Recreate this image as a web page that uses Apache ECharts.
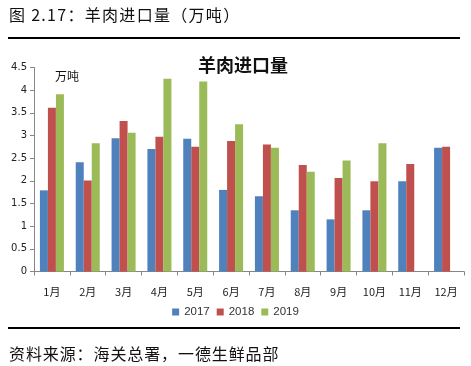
<!DOCTYPE html>
<html><head><meta charset="utf-8">
<script src="https://cdn.jsdelivr.net/npm/echarts@6/dist/echarts.min.js"></script>
<style>
html,body{margin:0;padding:0;background:#fff;}
#wrap{position:relative;width:471px;height:366px;font-family:"Noto Sans CJK SC","DejaVu Sans",sans-serif;}
#chart{position:absolute;left:0;top:0;width:471px;height:366px;}
.hd{position:absolute;left:9px;top:3px;font-size:16px;line-height:22px;color:#111;letter-spacing:1.3px;}
.ln{position:absolute;left:8px;width:452px;height:2px;background:#000;}
.src{position:absolute;left:9px;top:342px;font-size:16px;line-height:22px;color:#111;letter-spacing:0.9px;}
</style></head>
<body><div id="wrap">
<div id="chart"></div>
<div class="hd">图 2.17：羊肉进口量（万吨）</div>
<div class="ln" style="top:37px"></div>
<div class="ln" style="top:327px"></div>
<div class="src">资料来源：海关总署，一德生鲜品部</div>
</div>
<script>
const categories = ['1月','2月','3月','4月','5月','6月','7月','8月','9月','10月','11月','12月'];
const seriesNames = ['2017','2018','2019'];
const v2017 = [1.79,2.41,2.94,2.70,2.93,1.80,1.66,1.35,1.15,1.35,1.99,2.73];
const v2018 = [3.61,2.01,3.32,2.97,2.75,2.88,2.80,2.35,2.06,1.99,2.37,2.75];
const v2019 = [3.91,2.83,3.06,4.25,4.19,3.25,2.73,2.20,2.45,2.83,null,null];
const yTicks = [0,0.5,1,1.5,2,2.5,3,3.5,4,4.5];
const colors = ['#4F81BD','#C0504D','#9BBB59'];

const chart = echarts.init(document.getElementById('chart'));
chart.setOption({
  animation:false,
  title:[{text:'羊肉进口量',left:238,top:51,textAlign:'center',textStyle:{fontSize:18,fontWeight:'bold',color:'#111',fontFamily:'Noto Sans CJK SC'}},
         {text:'万吨',left:50,top:65,textStyle:{fontSize:12,fontWeight:'normal',color:'#111',fontFamily:'Noto Sans CJK SC'}}],
  legend:{data:seriesNames,top:301,left:'center',itemWidth:7,itemHeight:7,itemGap:7,icon:'rect',
    textStyle:{fontSize:11.5,color:'#333',fontFamily:'Liberation Sans'}},
  grid:{left:34,right:7,top:67.5,bottom:94.5,containLabel:false},
  xAxis:{type:'category',data:categories,
    axisLine:{lineStyle:{color:'#868686'}},
    axisTick:{show:true,alignWithLabel:false,length:4,lineStyle:{color:'#868686'}},
    axisLabel:{fontSize:11,color:'#222',margin:15,interval:0,fontFamily:'Noto Sans CJK SC'}},
  yAxis:{type:'value',min:0,max:4.5,interval:0.5,
    axisLine:{show:true,lineStyle:{color:'#868686'}},
    axisTick:{show:true,length:4,lineStyle:{color:'#868686'}},
    splitLine:{show:false},
    axisLabel:{fontSize:10,color:'#222',margin:7,fontFamily:'DejaVu Sans',formatter:v=>String(v)}},
  series:[
    {name:seriesNames[0],type:'bar',data:v2017,itemStyle:{color:colors[0]},barGap:'0%',barCategoryGap:'33%'},
    {name:seriesNames[1],type:'bar',data:v2018,itemStyle:{color:colors[1]},barGap:'0%',barCategoryGap:'33%'},
    {name:seriesNames[2],type:'bar',data:v2019,itemStyle:{color:colors[2]},barGap:'0%',barCategoryGap:'33%'}
  ]
});
</script>
</body></html>
